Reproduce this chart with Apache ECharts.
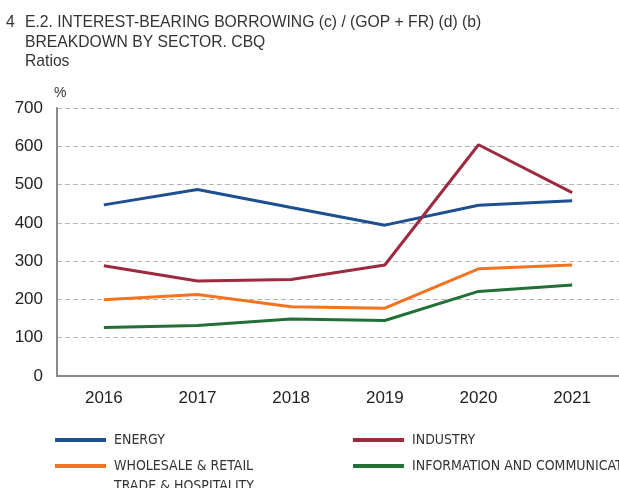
<!DOCTYPE html>
<html>
<head>
<meta charset="utf-8">
<script src="https://cdn.jsdelivr.net/npm/echarts@6/dist/echarts.min.js"></script>
<style>html,body{margin:0;padding:0;background:#fff}#c{width:619px;height:488px}</style>
</head>
<body>
<div id="c"></div>
<script>
var years = ['2016', '2017', '2018', '2019', '2020', '2021'];
var energy = [447, 487, 440, 394, 446, 458];
var industry = [288, 248, 252, 290, 604, 479];
var wholesale = [199, 213, 181, 177, 280, 290];
var ict = [127, 132, 149, 145, 221, 238];
var yTicks = { min: 0, max: 700, interval: 100 };

var names = ['ENERGY', 'INDUSTRY', 'WHOLESALE & RETAIL', 'INFORMATION AND COMMUNICATION'];
var colors = ['#1d4f91', '#9e2a40', '#f47321', '#237036'];
var values = [energy, industry, wholesale, ict];

var chart = echarts.init(document.getElementById('c'));
var font = 'Liberation Sans, Arial, Helvetica, sans-serif';
var narrow = 'Liberation Sans Narrow, Arial Narrow, DejaVu Sans Condensed, sans-serif';
var legendPos = [[55, 433], [353, 433], [55, 459], [353, 459]];

chart.setOption({
  animation: false,
  backgroundColor: '#fff',
  grid: { left: 57, right: -5, top: 108, bottom: 112, containLabel: false },
  graphic: [
    { type: 'text', left: 6, top: 15, style: { text: '4', font: '15.7px ' + font, fill: '#333' } },
    { type: 'text', left: 25, top: 15, style: { text: 'E.2. INTEREST-BEARING BORROWING (c) / (GOP + FR) (d) (b)', font: '15.7px ' + font, fill: '#333' } },
    { type: 'text', left: 25, top: 35, style: { text: 'BREAKDOWN BY SECTOR. CBQ', font: '15.7px ' + font, fill: '#333' } },
    { type: 'text', left: 25, top: 54, style: { text: 'Ratios', font: '15.7px ' + font, fill: '#333' } },
    { type: 'text', left: 54, top: 86, style: { text: '%', font: '14px ' + font, fill: '#333' } },
    { type: 'text', left: 114, top: 479, style: { text: 'TRADE & HOSPITALITY', font: '14px ' + narrow, fill: '#333' } }
  ],
  legend: names.map(function (n, i) {
    return {
      data: [n], left: legendPos[i][0], top: legendPos[i][1], icon: 'rect',
      itemWidth: 51, itemHeight: 4, padding: 0,
      textStyle: { fontFamily: narrow, fontSize: 14, color: '#333', padding: [0, 0, 0, 3] }
    };
  }),
  xAxis: {
    type: 'category', data: years, boundaryGap: true,
    axisLine: { lineStyle: { color: '#8a8a8e', width: 2 } },
    axisTick: { inside: true, length: 5, lineStyle: { color: '#8a8a8e', width: 1 } },
    axisLabel: { color: '#222', fontSize: 17, fontFamily: font, margin: 14 },
    splitLine: { show: false }
  },
  yAxis: {
    type: 'value', min: yTicks.min, max: yTicks.max, interval: yTicks.interval,
    axisLine: { show: true, lineStyle: { color: '#8a8a8e', width: 2 } },
    axisTick: { show: false },
    axisLabel: { color: '#222', fontSize: 17, fontFamily: font, margin: 14 },
    splitLine: { lineStyle: { color: '#b5b5b5', type: [5, 3], width: 1 } }
  },
  series: names.map(function (n, i) {
    return {
      name: n, type: 'line', data: values[i], symbol: 'none',
      lineStyle: { color: colors[i], width: 3 }, itemStyle: { color: colors[i] },
      z: i === 1 ? 5 : 3
    };
  })
});
</script>
</body>
</html>
